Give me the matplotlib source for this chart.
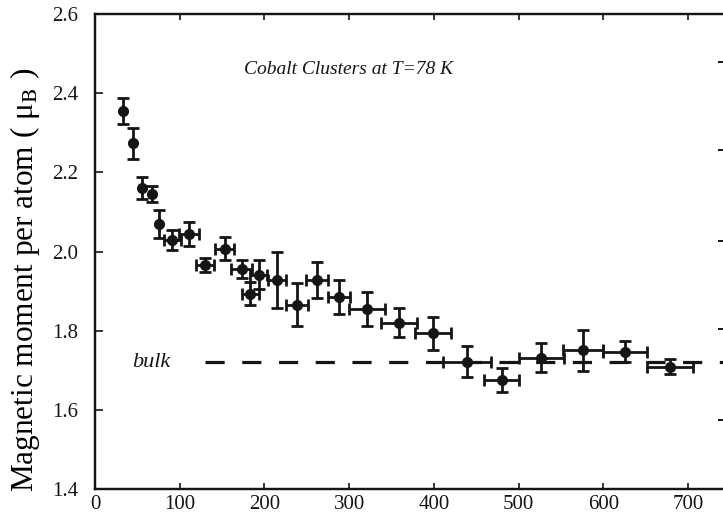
#!/usr/bin/env python3
"""Magnetic moment per atom of cobalt clusters versus cluster size."""

import matplotlib

matplotlib.use('Agg')
from matplotlib import pyplot as plt  # noqa: E402
import numpy as np  # noqa: E402

# cluster size (atoms per cluster) and its half-width
cluster_size = [33, 45, 55, 67, 76, 91, 111, 130, 153, 173, 183, 193, 215,
                238, 262, 288, 321, 359, 399, 439, 480, 527, 576, 626, 679]
size_err = [0, 0, 0, 0, 0, 10, 12, 11, 11, 12, 10, 10, 11,
            13, 13, 13, 21, 21, 21, 28, 21, 26, 24, 26, 27]
# magnetic moment per atom (mu_B) and its uncertainty
moment = [2.356, 2.274, 2.160, 2.145, 2.069, 2.029, 2.044, 1.966, 2.007,
          1.956, 1.894, 1.942, 1.928, 1.866, 1.928, 1.884, 1.855, 1.820,
          1.793, 1.722, 1.676, 1.732, 1.751, 1.747, 1.709]
moment_err = [0.033, 0.039, 0.028, 0.021, 0.035, 0.025, 0.030, 0.018, 0.029,
              0.023, 0.029, 0.036, 0.070, 0.054, 0.045, 0.043, 0.044, 0.037,
              0.042, 0.039, 0.031, 0.037, 0.052, 0.027, 0.019]
bulk_moment = 1.72

x_ticks = [0, 100, 200, 300, 400, 500, 600, 700]
y_ticks = [1.4, 1.6, 1.8, 2.0, 2.2, 2.4, 2.6]
y_tick_labels = ['1.4', '1.6', '1.8', '2.0', '2.2', '2.4', '2.6']
# unlabelled ticks on the (cropped) right-hand axis
right_ticks = [1.575, 1.804, 2.027, 2.256, 2.479]

INK = '#151515'


def main() -> None:
    plt.rcParams.update({
        'font.family': 'Liberation Serif',
        'mathtext.fontset': 'stix',
        'font.size': 15,
        'axes.linewidth': 1.6,
        'axes.edgecolor': INK,
        'xtick.color': INK,
        'ytick.color': INK,
    })

    figure = plt.figure(figsize=(7.23, 5.19), dpi=100)
    axis = figure.add_axes([0.1314, 0.0578, 0.873, 0.915])

    axis.errorbar(
        cluster_size, moment, xerr=size_err, yerr=moment_err,
        fmt='o', color=INK, markersize=7, elinewidth=2.0,
        capsize=4, capthick=2.0, zorder=3,
    )
    axis.plot([130, 745], [bulk_moment, bulk_moment], color=INK,
              linewidth=2.3, linestyle=(0, (6, 5.5)), zorder=2)
    axis.text(67, bulk_moment, 'bulk', style='italic', fontsize=16,
              ha='center', va='center', color=INK)
    axis.text(299, 2.459, 'Cobalt Clusters at T=78 K', style='italic',
              fontsize=14, ha='center', va='center', color=INK)

    axis.set_xlim(0, 745)
    axis.set_ylim(1.4, 2.6)
    axis.set_xticks(x_ticks)
    axis.set_yticks(y_ticks)
    axis.set_yticklabels(y_tick_labels)
    axis.tick_params(axis='x', direction='in', length=4, width=1.2,
                     top=True, pad=4, labelsize=15)
    axis.tick_params(axis='y', direction='in', length=6, width=1.2,
                     right=False, pad=12, labelsize=15)
    axis.set_ylabel('Magnetic moment per atom ( μ$_\\mathrm{B}$ )',
                    fontsize=22.5, va='center')
    axis.yaxis.set_label_coords(-0.111, 0.44)

    twin = axis.twinx()
    twin.set_ylim(1.4, 2.6)
    twin.set_yticks(right_ticks)
    twin.tick_params(axis='y', direction='in', length=6, width=1.4,
                     labelright=False)

    figure.savefig('out.png', dpi=100, facecolor='white')
    plt.close(figure)


if __name__ == '__main__':
    main()
